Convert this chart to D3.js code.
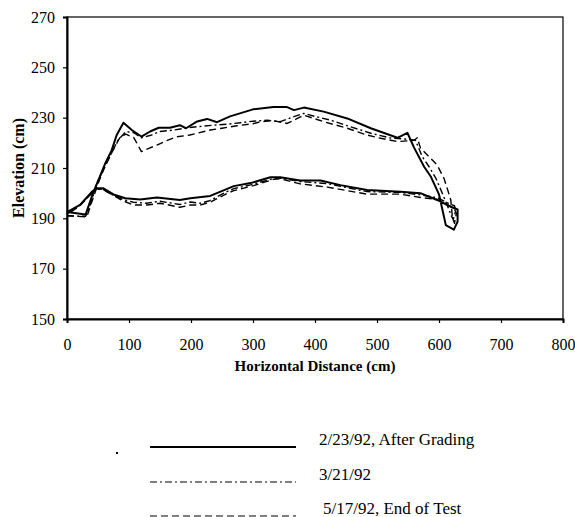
<!DOCTYPE html>
<html>
<head>
<meta charset="utf-8">
<script src="https://cdn.jsdelivr.net/npm/d3@7"></script>
<style>
  body { margin: 0; background: #fff; }
  svg { display: block; }
  text { font-family: "Liberation Serif", "Times New Roman", serif; fill: #000; }
</style>
</head>
<body>
<svg id="chart" width="575" height="517"></svg>
<script>
// each survey is one closed cross-section: [distance cm, elevation cm]
const afterGrading = [
  [0,192.5],[30,191.5],[42,200],[52,206],[62,212],[72,217],[80,223],[91,228],[105,225],[120,222.5],
  [134,224.5],[148,226],[166,226],[182,227],[192,225.8],[210,228.5],[226,229.5],[242,228.2],[263,230.5],
  [300,233.3],[333,234.2],[355,234.2],[366,233],[382,234],[414,232.4],[452,229.7],[490,225.8],[533,222],
  [549,224],[560,218],[576,210.5],[587,206.5],[600,199.5],[605,194],[611,187.3],[624,185.5],[630,188.7],
  [630,193.5],[619,194.6],[597,197.3],[570,200],[538,200.6],[484,201.3],[441,203.2],[409,205],[376,205],
  [344,206.3],[328,206.3],[296,204],[269,202.8],[231,198.9],[199,198],[182,197.3],[145,198.3],[118,197.5],
  [94,198],[75,199.5],[58,202],[48,202],[40,200.5],[21,195.3],[0,192.5]
];
const march21 = [
  [0,191],[30,190.8],[40,197],[48,204],[60,210],[72,216],[82,221],[95,224.5],[108,224],[120,222],
  [135,223],[150,224.5],[170,225],[195,226],[210,226.4],[236,227],[262,227.5],[280,228],[300,228.6],
  [323,229],[344,228.4],[366,230.4],[382,231.7],[400,230.5],[425,229],[457,226.4],[490,223.8],[520,222],
  [545,221.5],[562,221],[573,214.5],[584,210.5],[595,205.9],[603,201.3],[612,196],[620,191],[623,189.5],
  [627,193],[625,195],[615,196],[597,198.2],[570,199.3],[538,200.3],[484,200.6],[452,202.2],[420,203.8],
  [376,204.6],[344,206],[333,205.8],[296,203.3],[269,201.8],[258,200.6],[230,197],[215,196],[199,196.5],
  [182,195.5],[150,196.8],[128,196],[107,196.4],[90,197.5],[72,199.5],[58,201.5],[48,201.5],[40,200],
  [20,195],[0,191.8]
];
const endOfTest = [
  [0,191],[32,190.6],[42,198],[52,205],[62,211],[72,216],[85,222],[95,223.5],[108,222],[120,216.5],
  [132,217.8],[145,219.1],[160,220.8],[177,222.4],[198,223.1],[210,223.8],[231,225.1],[250,225.8],
  [274,226.8],[300,227.6],[312,228.4],[333,228.8],[355,227.7],[370,229.5],[382,231],[414,228.4],
  [452,225.8],[484,223.1],[506,221.8],[533,220.5],[560,221],[565,222],[570,218],[582,215],[597,211.2],
  [608,205.9],[614,201.3],[619,197.3],[621.5,190.7],[625,188],[628,192],[624,194],[597,197.5],[570,198.3],
  [538,199.6],[484,199.6],[452,201],[420,202.4],[376,203.7],[344,205.7],[333,205.5],[301,203],[269,201],
  [258,199.9],[232,196.5],[215,195.3],[199,195.3],[182,194.4],[150,196],[129,195.3],[107,195.3],[90,197],
  [72,199.5],[58,201.5],[48,201.8],[40,200],[20,194.8],[0,191.5]
];

const seriesNames = ["2/23/92, After Grading", "3/21/92", "5/17/92, End of Test"];
const xTicks = [0, 100, 200, 300, 400, 500, 600, 700, 800];
const yTicks = [150, 170, 190, 210, 230, 250, 270];

const svg = d3.select("#chart");
const plotL = 67, plotR = 563, plotT = 17, plotB = 319;

const x = d3.scaleLinear().domain([0, 800]).range([plotL, plotR]);
const y = d3.scaleLinear().domain([150, 270]).range([plotB, plotT]);

// frame
svg.append("rect")
  .attr("x", plotL).attr("y", plotT)
  .attr("width", plotR - plotL).attr("height", plotB - plotT)
  .attr("fill", "none").attr("stroke", "#000").attr("stroke-width", 1.2);

const xAxis = svg.append("g")
  .attr("transform", "translate(0," + plotB + ")")
  .call(d3.axisBottom(x).tickValues(xTicks).tickSize(4).tickPadding(16).tickFormat(d3.format("d")));
const yAxis = svg.append("g")
  .attr("transform", "translate(" + plotL + ",0)")
  .call(d3.axisLeft(y).tickValues(yTicks).tickSize(4).tickPadding(8).tickFormat(d3.format("d")));

[xAxis, yAxis].forEach(g => {
  g.select(".domain").attr("stroke", "#000").attr("stroke-width", 2);
  g.selectAll(".tick line").attr("stroke", "#000").attr("stroke-width", 1.2);
  g.selectAll(".tick text")
    .attr("font-family", "Liberation Serif")
    .attr("font-size", 16)
    .attr("fill", "#000");
});

svg.append("text")
  .attr("x", (plotL + plotR) / 2).attr("y", 371)
  .attr("text-anchor", "middle")
  .attr("font-size", 15).attr("font-weight", "bold")
  .text("Horizontal Distance (cm)");

svg.append("text")
  .attr("transform", "translate(24," + ((plotT + plotB) / 2) + ") rotate(-90)")
  .attr("text-anchor", "middle")
  .attr("font-size", 16).attr("font-weight", "bold")
  .text("Elevation (cm)");

const styles = [
  { data: afterGrading, dash: null, width: 2 },
  { data: march21, dash: "7,3,2,3", width: 1.4 },
  { data: endOfTest, dash: "7,4", width: 1.4 }
];

const line = d3.line().x(d => x(d[0])).y(d => y(d[1]));

svg.selectAll(".profile")
  .data(styles)
  .enter()
  .append("path")
  .attr("class", "profile")
  .attr("d", d => line(d.data))
  .attr("fill", "none")
  .attr("stroke", "#000")
  .attr("stroke-width", d => d.width)
  .attr("stroke-dasharray", d => d.dash)
  .attr("stroke-linejoin", "round");

// legend
const legendY = [447, 482, 516];
const legendTextX = [319, 319, 323];
const lg = svg.append("g");
styles.forEach((s, i) => {
  lg.append("line")
    .attr("x1", 150).attr("x2", 296)
    .attr("y1", legendY[i]).attr("y2", legendY[i])
    .attr("stroke", "#000")
    .attr("stroke-width", s.width === 2 ? 1.8 : 1.2)
    .attr("stroke-dasharray", s.dash);
  lg.append("text")
    .attr("x", legendTextX[i]).attr("y", legendY[i] - 2)
    .attr("font-size", 17)
    .text(seriesNames[i]);
});
lg.append("rect").attr("x", 116).attr("y", 452).attr("width", 2).attr("height", 2).attr("fill", "#000");
</script>
</body>
</html>
